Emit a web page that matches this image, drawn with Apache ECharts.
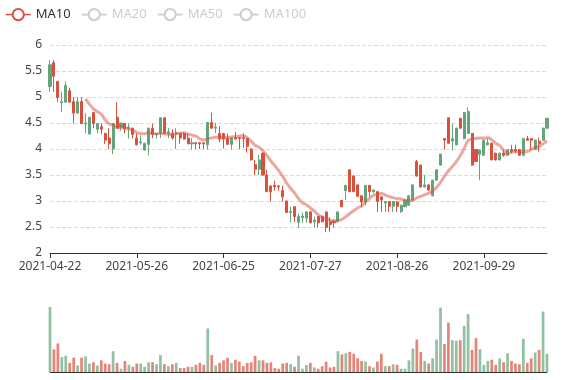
<!DOCTYPE html>
<html><head><meta charset="utf-8">
<script src="https://cdn.jsdelivr.net/npm/echarts@6/dist/echarts.min.js"></script>
<style>html,body{margin:0;padding:0;background:#fff}#main{width:577px;height:380px}</style>
</head><body><div id="main"></div>
<script>
const dates = ['2021-04-22','2021-04-23','2021-04-26','2021-04-27','2021-04-28','2021-04-29','2021-04-30','2021-05-06','2021-05-07','2021-05-08',
'2021-05-10','2021-05-11','2021-05-12','2021-05-13','2021-05-14','2021-05-17','2021-05-18','2021-05-19','2021-05-20','2021-05-21',
'2021-05-24','2021-05-25','2021-05-26','2021-05-27','2021-05-28','2021-05-31','2021-06-01','2021-06-02','2021-06-03','2021-06-04',
'2021-06-07','2021-06-08','2021-06-09','2021-06-10','2021-06-11','2021-06-14','2021-06-15','2021-06-16','2021-06-17','2021-06-18',
'2021-06-21','2021-06-22','2021-06-23','2021-06-24','2021-06-25','2021-06-28','2021-06-29','2021-06-30','2021-07-01','2021-07-02',
'2021-07-05','2021-07-06','2021-07-07','2021-07-08','2021-07-09','2021-07-12','2021-07-13','2021-07-14','2021-07-15','2021-07-16',
'2021-07-19','2021-07-20','2021-07-21','2021-07-22','2021-07-23','2021-07-26','2021-07-27','2021-07-28','2021-07-29','2021-07-30',
'2021-08-02','2021-08-03','2021-08-04','2021-08-05','2021-08-06','2021-08-09','2021-08-10','2021-08-11','2021-08-12','2021-08-13',
'2021-08-16','2021-08-17','2021-08-18','2021-08-19','2021-08-20','2021-08-23','2021-08-24','2021-08-25','2021-08-26','2021-08-27',
'2021-08-30','2021-08-31','2021-09-01','2021-09-02','2021-09-03','2021-09-06','2021-09-07','2021-09-08','2021-09-09','2021-09-10',
'2021-09-13','2021-09-14','2021-09-15','2021-09-16','2021-09-17','2021-09-22','2021-09-23','2021-09-24','2021-09-27','2021-09-28',
'2021-09-29','2021-09-30','2021-10-08','2021-10-11','2021-10-12','2021-10-13','2021-10-14','2021-10-15','2021-10-18','2021-10-19',
'2021-10-20','2021-10-21','2021-10-22','2021-10-25','2021-10-26','2021-10-27','2021-10-28'];

const opens = [5.20,5.66,5.30,4.89,4.90,5.12,4.91,4.69,4.91,4.48,
4.29,4.70,4.38,4.43,4.30,4.21,4.00,4.61,4.42,4.49,
4.40,4.40,4.21,4.12,3.98,4.09,4.40,4.28,4.30,4.60,
4.30,4.30,4.29,4.30,4.30,4.21,4.10,4.12,4.12,4.12,
4.08,4.51,4.40,4.30,4.30,4.21,4.09,4.22,4.22,4.22,
4.20,4.00,3.70,3.61,3.92,3.50,3.29,3.30,3.29,3.20,
3.00,2.78,2.89,2.59,2.68,2.67,2.79,2.60,2.70,2.70,
2.79,2.60,2.61,2.60,3.01,3.20,3.60,3.48,3.31,3.10,
2.98,3.30,3.18,3.18,3.08,2.96,2.99,2.90,2.98,2.80,
2.89,2.92,3.02,3.76,3.69,3.27,3.31,3.10,3.40,3.69,
4.20,4.60,4.15,4.08,4.59,4.20,4.30,4.30,3.99,3.90,
3.88,4.08,4.11,3.92,3.79,3.92,3.88,3.99,3.99,3.99,
3.88,4.20,4.20,3.99,4.15,4.17,4.40];

const closes = [5.62,5.40,4.99,4.91,5.22,4.90,4.69,4.91,4.49,4.50,
4.61,4.49,4.49,4.38,4.17,4.10,4.49,4.40,4.50,4.39,
4.42,4.28,4.08,4.14,4.11,4.40,4.28,4.30,4.60,4.30,
4.33,4.21,4.31,4.21,4.19,4.10,4.12,4.10,4.10,4.10,
4.51,4.40,4.42,4.19,4.19,4.09,4.21,4.19,4.20,4.20,
4.05,3.79,3.61,3.79,3.50,3.18,3.18,3.27,3.27,3.08,
2.78,2.80,2.70,2.70,2.71,2.79,2.58,2.63,2.58,2.60,
2.49,2.55,2.58,2.79,2.89,3.30,3.18,3.18,3.09,2.98,
3.30,3.18,3.21,2.99,3.02,2.99,2.90,2.99,2.90,2.92,
3.02,3.10,3.31,3.48,3.27,3.31,3.21,3.40,3.60,3.90,
4.17,4.11,4.20,4.40,4.40,4.70,4.72,3.69,3.76,3.98,
4.17,4.12,3.79,3.79,3.92,3.88,3.99,3.95,3.96,3.88,
4.20,4.17,4.17,4.17,4.10,4.40,4.59];

const lows = [5.10,5.10,4.90,4.71,4.89,4.89,4.49,4.68,4.49,4.30,
4.28,4.40,4.30,4.28,4.10,4.00,3.90,4.40,4.35,4.30,
4.20,4.20,4.07,4.08,3.97,3.88,4.21,4.20,4.21,4.29,
4.21,4.18,4.00,4.10,4.18,4.09,3.99,4.00,4.00,4.00,
3.99,4.39,4.31,4.13,4.01,4.08,3.99,4.19,4.00,4.02,
3.93,3.78,3.50,3.50,3.49,3.17,2.99,3.20,3.20,2.99,
2.77,2.59,2.60,2.48,2.58,2.58,2.57,2.49,2.49,2.59,
2.40,2.41,2.49,2.59,2.88,3.02,3.17,3.18,3.08,2.89,
2.92,3.08,3.15,2.79,2.79,2.79,2.79,2.79,2.79,2.77,
2.88,2.91,3.00,3.47,3.26,3.26,3.20,3.09,3.39,3.68,
3.99,4.10,3.97,4.07,4.39,4.19,4.29,3.68,3.75,3.40,
3.87,4.07,3.78,3.78,3.78,3.85,3.87,3.92,3.92,3.87,
3.87,4.16,3.98,3.98,3.95,4.16,4.39];

const highs = [5.71,5.71,5.31,5.10,5.30,5.18,5.00,5.00,5.00,4.69,
4.61,4.71,4.50,4.50,4.31,4.40,4.50,4.90,4.50,4.50,
4.49,4.41,4.30,4.26,4.12,4.41,4.49,4.31,4.61,4.61,
4.40,4.38,4.40,4.31,4.32,4.30,4.21,4.13,4.13,4.13,
4.51,4.70,4.50,4.44,4.31,4.30,4.22,4.33,4.23,4.30,
4.21,4.01,3.79,3.89,3.93,3.60,3.30,3.39,3.30,3.29,
3.01,2.89,2.90,2.76,2.78,2.80,2.80,2.70,2.71,2.72,
2.80,2.69,2.64,2.80,3.02,3.31,3.61,3.50,3.32,3.11,
3.31,3.31,3.22,3.19,3.09,3.00,3.00,3.00,3.00,2.93,
3.03,3.11,3.32,3.79,3.70,3.50,3.32,3.41,3.61,3.91,
4.21,4.61,4.49,4.41,4.60,4.71,4.80,4.31,4.00,3.99,
4.18,4.20,4.12,3.93,3.93,3.98,4.00,4.08,4.08,4.00,
4.21,4.25,4.21,4.18,4.22,4.41,4.60];

const volumes = [100,35,44,23,25,14,22,10,22,24,
13,15,10,18,13,12,32,14,5,17,
11,8,13,13,8,15,15,12,26,12,
9,12,14,6,6,8,8,11,14,11,
67,26,10,14,18,22,14,19,16,9,
14,15,25,18,18,14,15,6,5,13,
14,12,8,25,5,11,14,7,5,9,
16,7,8,32,27,29,31,28,21,17,
16,9,7,16,28,9,9,12,11,5,
5,18,36,50,31,17,13,21,50,99,
43,76,49,48,49,71,89,34,52,35,
11,17,19,11,21,15,29,17,13,12,
51,14,21,30,34,93,28];

const maNames = ['MA10','MA20','MA50','MA100'];
const maWindows = [10,20,50,100];

// rising candles green, falling candles red
const RISE = '#62a57c', FALL = '#d9513d';
const RISE_VOL = 'rgba(98,165,124,0.7)', FALL_VOL = 'rgba(217,81,61,0.7)';
const maColors = ['#d9513d','#5470c6','#91cc75','#fac858'];

function calculateMA(n) {
  const out = [];
  for (let i = 0; i < closes.length; i++) {
    if (i < n - 1) { out.push('-'); continue; }
    let s = 0;
    for (let j = 0; j < n; j++) s += closes[i - j];
    out.push(+(s / n).toFixed(3));
  }
  return out;
}

const kData = dates.map((d, i) => [opens[i], closes[i], lows[i], highs[i]]);
const volData = volumes.map((v, i) => ({
  value: v,
  itemStyle: { color: closes[i] > opens[i] ? RISE_VOL : FALL_VOL }
}));

const chart = echarts.init(document.getElementById('main'), null, { renderer: 'canvas' });
const FONT = "'Noto Sans', sans-serif";
chart.setOption({
  animation: false,
  textStyle: { fontFamily: FONT },
  legend: {
    left: 0, top: 3, itemGap: 10,
    data: maNames,
    selected: { MA10: true, MA20: false, MA50: false, MA100: false },
    textStyle: { color: '#333', fontSize: 13, fontFamily: FONT },
    inactiveColor: '#ccc',
    itemStyle: { borderWidth: 1.2 },
    lineStyle: { width: 1.5, opacity: 1 }
  },
  grid: [
    { left: 50, right: 30, top: 45, height: 208 },
    { left: 50, right: 30, top: 307, height: 65 }
  ],
  xAxis: [
    {
      type: 'category', data: dates, boundaryGap: false, gridIndex: 0,
      axisLine: { lineStyle: { color: '#333' } },
      axisTick: { interval: 21, lineStyle: { color: '#333' } },
      axisLabel: { interval: 21, color: '#444', fontSize: 12, fontFamily: FONT },
      splitLine: { show: false }
    },
    {
      type: 'category', data: dates, boundaryGap: false, gridIndex: 1,
      axisLine: { lineStyle: { color: '#333' } },
      axisTick: { show: false }, axisLabel: { show: false }, splitLine: { show: false }
    }
  ],
  yAxis: [
    {
      type: 'value', gridIndex: 0, min: 2, max: 6, interval: 0.5,
      axisLine: { show: false }, axisTick: { show: false },
      axisLabel: { color: '#444', fontSize: 12, fontFamily: FONT },
      splitLine: { lineStyle: { type: 'dashed', color: '#ddd' } }
    },
    {
      type: 'value', gridIndex: 1, min: 0, max: 100,
      axisLine: { show: false }, axisTick: { show: false },
      axisLabel: { show: false }, splitLine: { show: false }
    }
  ],
  series: [
    {
      name: 'K', type: 'candlestick', xAxisIndex: 0, yAxisIndex: 0, clip: false,
      barWidth: '66%',
      data: kData,
      itemStyle: { color: RISE, color0: FALL, borderColor: RISE, borderColor0: FALL }
    },
    ...maNames.map((nm, k) => ({
      name: nm, type: 'line', xAxisIndex: 0, yAxisIndex: 0,
      data: calculateMA(maWindows[k]), smooth: true, showSymbol: false,
      color: maColors[k],
      lineStyle: { width: 3, opacity: 0.5 }
    })),
    {
      name: 'Volume', type: 'bar', xAxisIndex: 1, yAxisIndex: 1, clip: false,
      data: volData
    }
  ]
});
</script>
</body></html>
